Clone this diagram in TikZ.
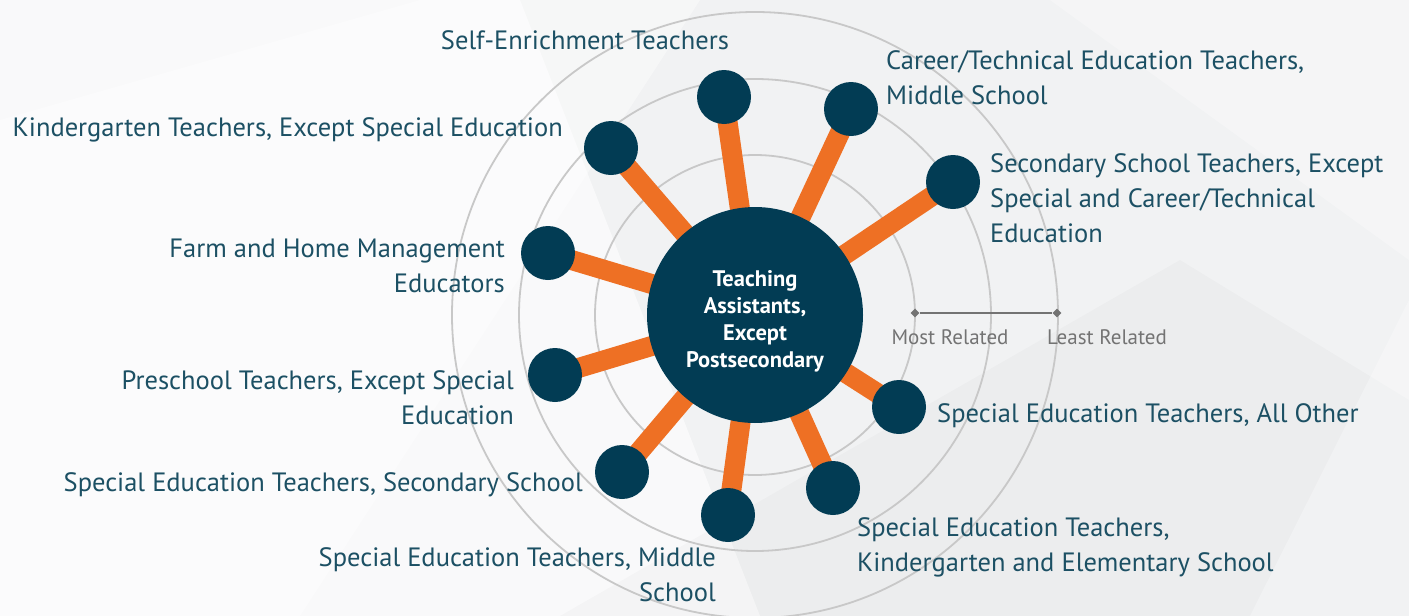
\documentclass[tikz,border=0pt]{standalone}
\usepackage{fontspec}
\setmainfont{PT Sans}
\usetikzlibrary{shapes.geometric}
\pgfdeclarelayer{back}
\pgfdeclarelayer{bg}
\pgfsetlayers{bg,back,main}
\definecolor{navy}{RGB}{2,60,84}
\definecolor{spokeor}{RGB}{238,112,36}
\definecolor{labc}{RGB}{28,80,100}
\definecolor{ringc}{RGB}{200,200,200}
\definecolor{scalec}{RGB}{115,115,115}
\definecolor{bgbase}{RGB}{241,242,243}
\tikzset{
  hub/.style={circle, fill=navy, minimum size=216pt, inner sep=0pt},
  hubtext/.style={text=white, align=center, inner sep=0pt,
    font=\fontsize{22.5}{27}\selectfont\bfseries},
  leaf/.style={circle, fill=navy, minimum size=54pt, inner sep=0pt},
  spoke/.style={draw=spokeor, line width=20pt},
  ring/.style={draw=ringc, line width=1.8pt},
  lab/.style={text=labc, inner sep=0pt, font=\fontsize{26.5}{35}\selectfont},
  scalelab/.style={text=scalec, inner sep=0pt, font=\fontsize{21}{24}\selectfont},
  tick/.style={diamond, fill=scalec, minimum size=9pt, inner sep=0pt},
}
\begin{document}
\begin{tikzpicture}[x=1pt,y=-1pt]
\useasboundingbox (0,0) rectangle (1409,616);
\begin{pgfonlayer}{bg}
\fill[bgbase] (0,0) rectangle (1409,616);
\fill[white,opacity=0.6] (0,0) -- (520,0) -- (760,616) -- (0,616) -- cycle;
\fill[white,opacity=0.4] (0,120) -- (420,0) -- (700,0) -- (300,616) -- (0,616) -- cycle;
\fill[black,opacity=0.018] (560,616) -- (1180,260) -- (1409,400) -- (1409,616) -- cycle;
\fill[white,opacity=0.3] (1050,0) -- (1409,0) -- (1409,260) -- cycle;
\fill[white,opacity=0.3] (1409,300) -- (1250,616) -- (1409,616) -- cycle;
\end{pgfonlayer}
% rings
\node[circle, inner sep=0pt, minimum size=1pt] (ctr) at (755,315) {};
\begin{pgfonlayer}{bg}
\draw[ring] (ctr.center) circle[radius=160];
\draw[ring] (ctr.center) circle[radius=236];
\draw[ring] (ctr.center) circle[radius=303];
\end{pgfonlayer}
% hub and leaves
\node[hub] (hub) at (755,315) {};
\node[hubtext] (hubt) at (755,321) {Teaching\\Assistants,\\Except\\Postsecondary};
\node[leaf] (se)  at (724,97)  {};
\node[leaf] (ct)  at (851,109) {};
\node[leaf] (ss)  at (953,182) {};
\node[leaf] (kt)  at (611,148) {};
\node[leaf] (fh)  at (548,253) {};
\node[leaf] (pt)  at (555,375) {};
\node[leaf] (sesec) at (622,472) {};
\node[leaf] (semid) at (728,515) {};
\node[leaf] (seke)  at (833,488) {};
\node[leaf] (seao)  at (899,407) {};
\begin{pgfonlayer}{back}
\foreach \n in {se,ct,ss,kt,fh,pt,sesec,semid,seke,seao}
  \draw[spoke] (hub.center) -- (\n.center);
\end{pgfonlayer}
% scale
\node[tick] (mr) at (915,313) {};
\node[tick] (lr) at (1057,313) {};
\draw[scalec, line width=2pt] (mr) -- (lr);
\node[scalelab] (mrl) at (950,337) {Most Related};
\node[scalelab] (lrl) at (1107,337) {Least Related};
% labels (base anchor = baseline of last line)
\node[lab, anchor=base] (l1) at (585,49) {Self-Enrichment Teachers};
\node[lab, anchor=base west, align=left] (l2) at (886,104) {Career/Technical Education Teachers,\\Middle School};
\node[lab, anchor=base east] (l3) at (563,136) {Kindergarten Teachers, Except Special Education};
\node[lab, anchor=base west, align=left] (l4) at (990,242) {Secondary School Teachers, Except\\Special and Career/Technical\\Education};
\node[lab, anchor=base east, align=right] (l5) at (505,292) {Farm and Home Management\\Educators};
\node[lab, anchor=base east, align=right] (l6) at (514,424) {Preschool Teachers, Except Special\\Education};
\node[lab, anchor=base west] (l7) at (937,422) {Special Education Teachers, All Other};
\node[lab, anchor=base east] (l8) at (583,491) {Special Education Teachers, Secondary School};
\node[lab, anchor=base east, align=right] (l9) at (716,601) {Special Education Teachers, Middle\\School};
\node[lab, anchor=base west, align=left] (l10) at (857,571) {Special Education Teachers,\\Kindergarten and Elementary School};
\end{tikzpicture}
\end{document}
